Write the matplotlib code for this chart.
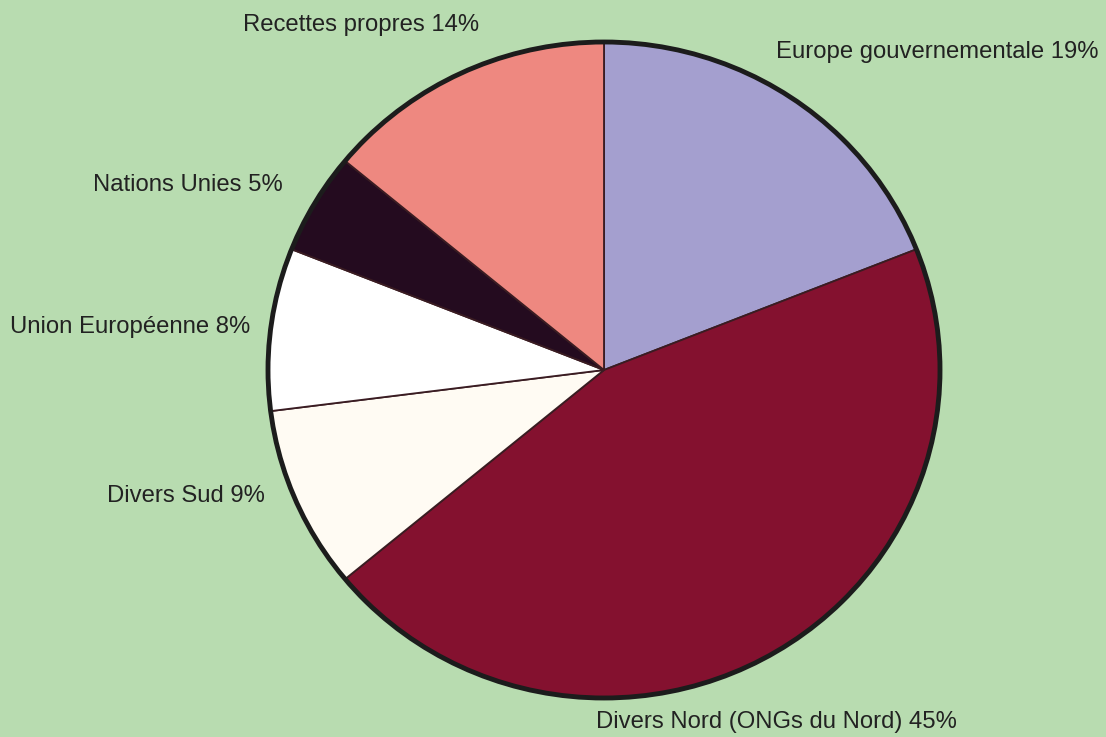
import matplotlib
matplotlib.use("Agg")
import matplotlib.pyplot as plt
from matplotlib.patches import Ellipse

labels = ["Europe gouvernementale 19%", "Divers Nord (ONGs du Nord) 45%", "Divers Sud 9%",
          "Union Européenne 8%", "Nations Unies 5%", "Recettes propres 14%"]
values = [19, 45, 9, 8, 5, 14]
colors = ["#a49fcf", "#84112f", "#fffbf3", "#ffffff", "#240b1f", "#ee8880"]

W, H = 1106, 737
BG = "#b8dcb0"
fig = plt.figure(figsize=(W / 100, H / 100), dpi=100, facecolor=BG)
ax = fig.add_axes([0, 0, 1, 1])
ax.set_facecolor(BG)

cx, cy_px = 604, 370
rx, ry = 336, 328
yscale = rx / ry
ax.set_xlim(0, W)
ax.set_ylim(0, H * yscale)
cy = (H - cy_px) * yscale

ax.pie(values, colors=colors, startangle=90, counterclock=False,
       center=(cx, cy), radius=rx, frame=True,
       wedgeprops=dict(edgecolor="#3a1c22", linewidth=1.3))
ax.add_patch(Ellipse((cx, cy), 2 * rx, 2 * rx, fill=False, edgecolor="#1c1c1c", linewidth=3.5, zorder=5))
ax.set_aspect("auto")
ax.set_xlim(0, W)
ax.set_ylim(0, H * yscale)
ax.axis("off")

label_pos = [(776, 52), (596, 722), (107, 496), (10, 327), (93, 185), (243, 25)]
for lab, (px, py) in zip(labels, label_pos):
    fig.text(px / W, 1 - py / H, lab, ha="left", va="center",
             fontsize=17.2, family="Liberation Sans", color="#222222")

fig.savefig("out.png", dpi=100, facecolor=BG)
